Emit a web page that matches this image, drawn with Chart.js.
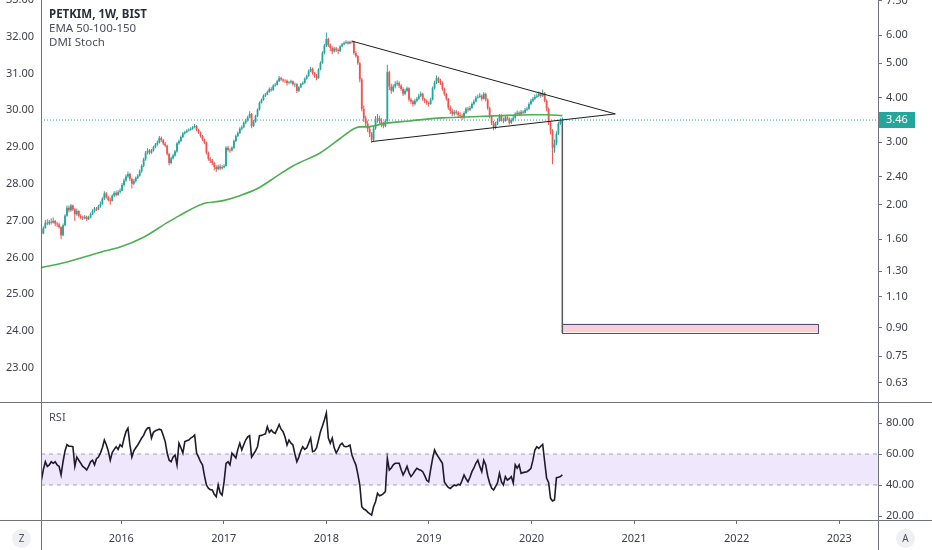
<!DOCTYPE html>
<html>
<head>
<meta charset="utf-8">
<script src="https://cdn.jsdelivr.net/npm/chart.js@4.4.0/dist/chart.umd.min.js"></script>
<style>
  html, body { margin: 0; padding: 0; background: #fff; }
  #wrap { position: relative; width: 932px; height: 550px; overflow: hidden; font-family: "Noto Sans", "DejaVu Sans", sans-serif; }
  #main { position: absolute; left: 0; top: 0; }
  #rsi { position: absolute; left: 0; top: 402px; }
  .lbl { position: absolute; left: 49px; font-size: 11.5px; line-height: 14px; color: #4c4f59; white-space: nowrap; }
  .btn { position: absolute; width: 19px; height: 19px; border-radius: 50%; background: #eef0f4; color: #50535e;
         font-size: 10px; line-height: 19px; text-align: center; }
</style>
</head>
<body>
<div id="wrap">
  <canvas id="main" width="932" height="402"></canvas>
  <canvas id="rsi" width="932" height="148"></canvas>
  <div class="lbl" style="top:7px;font-weight:bold;color:#2a2e39;">PETKIM, 1W, BIST</div>
  <div class="lbl" style="top:21px;">EMA 50-100-150</div>
  <div class="lbl" style="top:35px;">DMI Stoch</div>
  <div class="lbl" style="top:410px;font-size:11px;">RSI</div>
  <div class="btn" style="left:12px;top:529px;">Z</div>
  <div class="btn" style="left:896px;top:529px;">A</div>
</div>
<script>
// weekly candles, first week starts 2015-03-23
const startWeek = "2015-03-23";
const firstOpen = 1.70;
const closes = [
  1.66,1.72,1.78,1.77,1.79,1.78,1.80,1.77,1.76,1.73,
  1.64,1.75,1.86,1.96,1.93,1.99,1.94,1.88,1.92,1.86,
  1.84,1.83,1.85,1.82,1.84,1.88,1.92,1.95,1.94,1.98,
  2.01,2.08,2.15,2.10,2.06,2.05,2.12,2.16,2.13,2.17,
  2.19,2.27,2.34,2.40,2.44,2.36,2.29,2.33,2.38,2.41,
  2.48,2.57,2.68,2.80,2.84,2.80,2.84,2.90,2.95,2.99,
  3.08,3.04,2.97,2.93,2.78,2.62,2.70,2.75,2.82,2.97,
  3.02,3.10,3.17,3.20,3.23,3.25,3.27,3.30,3.33,3.25,
  3.19,3.12,3.05,2.99,2.80,2.69,2.66,2.62,2.55,2.52,
  2.56,2.53,2.55,2.57,2.89,2.85,2.84,2.89,3.02,3.12,
  3.18,3.27,3.30,3.40,3.45,3.52,3.60,3.33,3.42,3.55,
  3.70,3.87,3.94,4.05,4.08,4.15,4.23,4.20,4.32,4.35,
  4.45,4.54,4.50,4.47,4.46,4.40,4.41,4.45,4.36,4.37,
  4.18,4.28,4.37,4.40,4.52,4.60,4.75,4.82,4.69,4.60,
  4.54,4.80,5.01,5.34,5.60,5.85,5.62,5.52,5.40,5.50,
  5.45,5.41,5.58,5.65,5.70,5.73,5.68,5.74,5.73,5.34,
  5.24,5.00,4.50,3.72,3.50,3.38,3.27,3.17,3.05,3.28,
  3.44,3.50,3.44,3.38,3.33,3.44,4.72,4.30,4.18,4.30,
  4.37,4.40,4.32,4.23,4.10,4.18,4.25,3.95,3.90,3.84,
  3.92,3.97,4.05,4.10,3.97,3.92,3.87,3.84,3.95,4.25,
  4.40,4.54,4.46,4.40,4.23,4.10,3.97,3.75,3.67,3.60,
  3.65,3.63,3.58,3.56,3.51,3.62,3.72,3.70,3.74,3.84,
  3.90,4.00,4.02,4.05,3.97,4.10,3.95,3.74,3.55,3.40,
  3.29,3.38,3.44,3.56,3.48,3.44,3.52,3.49,3.40,3.46,
  3.51,3.60,3.63,3.60,3.65,3.63,3.70,3.72,3.84,3.92,
  3.97,4.02,4.05,4.10,4.05,4.12,3.92,3.72,3.40,3.23,
  2.89,2.97,3.17,3.38,3.44,3.46
];
const highs = [
  1.72,1.74,1.81,1.82,1.81,1.83,1.84,1.81,1.79,1.78,
  1.74,1.77,1.88,1.99,1.99,2.01,2.00,1.96,1.95,1.93,
  1.88,1.86,1.87,1.86,1.86,1.90,1.94,1.97,1.97,2.00,
  2.04,2.10,2.18,2.17,2.12,2.09,2.14,2.18,2.19,2.20,
  2.22,2.30,2.37,2.43,2.48,2.46,2.38,2.36,2.40,2.44,
  2.51,2.60,2.71,2.83,2.88,2.87,2.87,2.93,2.98,3.03,
  3.12,3.11,3.06,3.00,2.95,2.80,2.73,2.78,2.85,3.00,
  3.05,3.13,3.20,3.23,3.26,3.28,3.30,3.33,3.37,3.35,
  3.27,3.21,3.14,3.07,3.01,2.82,2.72,2.69,2.64,2.58,
  2.59,2.60,2.58,2.60,2.92,2.93,2.88,2.92,3.05,3.15,
  3.21,3.30,3.34,3.43,3.49,3.56,3.66,3.62,3.46,3.58,
  3.73,3.90,3.98,4.09,4.12,4.19,4.27,4.28,4.36,4.40,
  4.49,4.60,4.58,4.53,4.51,4.50,4.46,4.49,4.47,4.41,
  4.39,4.31,4.40,4.44,4.56,4.64,4.80,4.88,4.86,4.72,
  4.66,4.84,5.06,5.40,5.66,6.10,5.90,5.68,5.58,5.56,
  5.55,5.50,5.62,5.70,5.76,5.80,5.78,5.78,5.79,5.75,
  5.40,5.27,5.03,4.55,3.80,3.56,3.45,3.33,3.20,3.32,
  3.55,3.60,3.56,3.50,3.42,3.48,4.95,4.76,4.38,4.36,
  4.45,4.48,4.45,4.36,4.28,4.24,4.30,4.28,4.00,3.94,
  3.97,4.02,4.10,4.16,4.13,4.00,3.95,3.90,4.00,4.30,
  4.46,4.62,4.58,4.52,4.44,4.27,4.13,3.99,3.80,3.72,
  3.70,3.69,3.67,3.64,3.60,3.66,3.76,3.77,3.79,3.88,
  3.95,4.05,4.08,4.12,4.08,4.15,4.13,3.98,3.77,3.58,
  3.44,3.42,3.50,3.60,3.59,3.52,3.56,3.56,3.52,3.50,
  3.55,3.64,3.68,3.66,3.69,3.68,3.74,3.77,3.88,3.97,
  4.02,4.08,4.11,4.16,4.14,4.22,4.15,3.95,3.75,3.44,
  3.26,3.05,3.22,3.42,3.50,3.52
];
const lows = [
  1.62,1.65,1.71,1.75,1.75,1.76,1.77,1.74,1.73,1.71,
  1.60,1.63,1.74,1.85,1.90,1.91,1.92,1.80,1.86,1.84,
  1.82,1.81,1.82,1.80,1.81,1.83,1.87,1.90,1.92,1.93,
  1.96,2.00,2.06,2.08,2.04,2.00,2.04,2.10,2.11,2.12,
  2.15,2.18,2.25,2.32,2.38,2.33,2.22,2.27,2.31,2.36,
  2.40,2.46,2.55,2.66,2.77,2.77,2.78,2.82,2.88,2.93,
  2.97,3.00,2.94,2.90,2.75,2.58,2.60,2.68,2.73,2.80,
  2.95,3.00,3.08,3.15,3.18,3.21,3.23,3.25,3.28,3.22,
  3.16,3.09,3.02,2.96,2.77,2.66,2.62,2.58,2.50,2.47,
  2.50,2.50,2.51,2.53,2.56,2.82,2.80,2.82,2.87,3.00,
  3.10,3.16,3.24,3.28,3.37,3.43,3.50,3.28,3.31,3.40,
  3.53,3.68,3.85,3.92,4.02,4.06,4.13,4.16,4.18,4.29,
  4.33,4.43,4.46,4.42,4.40,4.33,4.36,4.38,4.32,4.28,
  4.12,4.15,4.26,4.34,4.38,4.49,4.58,4.72,4.64,4.55,
  4.48,4.52,4.78,4.98,5.30,5.55,5.55,5.40,5.30,5.36,
  5.38,5.30,5.38,5.55,5.62,5.66,5.64,5.65,5.68,5.28,
  5.18,4.95,4.42,3.66,3.42,3.30,3.20,3.10,2.98,3.02,
  3.25,3.40,3.38,3.30,3.28,3.30,3.42,4.20,4.10,4.14,
  4.25,4.32,4.26,4.18,4.04,4.06,4.14,3.90,3.84,3.78,
  3.80,3.88,3.94,4.02,3.92,3.86,3.82,3.78,3.82,3.93,
  4.22,4.36,4.40,4.34,4.18,4.05,3.92,3.70,3.60,3.55,
  3.56,3.58,3.53,3.50,3.46,3.49,3.60,3.65,3.67,3.72,
  3.81,3.88,3.97,3.99,3.92,3.95,3.90,3.70,3.50,3.35,
  3.24,3.26,3.35,3.42,3.43,3.39,3.42,3.45,3.36,3.37,
  3.43,3.49,3.57,3.55,3.57,3.59,3.61,3.67,3.70,3.81,
  3.89,3.94,3.99,4.02,4.00,4.02,3.88,3.66,3.35,3.15,
  2.60,2.80,2.94,3.14,3.35,3.40
];
const rsi = [
  43,50,55,52,53,55,54,55,53,52,
  46.5,55,62,66,65,65,64.7,52,58,56,
  54,52,51,49.7,52,55,56,53,57,58,
  60.6,64,69,66,62,56,61,63,64.7,63,
  66,64.7,70,74.4,76.6,66,58,62,64,65.8,
  68,70.3,72,75,76.8,77,70.3,74,75,75.5,
  76,75.5,72,68,60.6,56,55,58,59.4,53,
  67,64,60.6,68,68.5,69,70.3,71,72.3,60.6,
  58,55,53,46,40,38,37,36.8,34,32.5,
  40,35,33.5,42,54,55,53,60.6,59,57.4,
  63,67,62.6,66,69,71,71.8,58,60,62,
  64.7,71.8,72,72.5,73,77.6,74,75.5,74,73.3,
  76,79,76,74.4,71,65.8,69,67,65.8,60,
  55,58,62,64.7,63,63.9,67,70.3,61.5,62,
  63.9,69,74.4,78,82,86.5,70.3,67,70.3,64,
  60.6,63,65.8,67,65,64.7,65,65.8,59.4,56,
  53,47,40,26,24.5,23.9,22.5,21.5,20.6,26,
  29.2,34.6,33,33.5,34.5,35.7,57.2,49.7,51,53,
  54,54,54,50,46.5,49,52,48,45.4,47,
  49,50.8,50,49.5,48.6,46,43,42,50,57,
  62.6,60,58,56,54,42,40,38.5,37.8,39,
  40,39.5,40.5,40,43,46.5,44,42,45,48.6,
  51,54,56,52,48.6,56,53,46,41.3,38,
  36.8,39,41.3,47.5,42,40,45.4,43.2,44,45.4,
  41.3,53,50.8,53,47.5,48,48.3,48.6,49.5,50.8,
  56,62.6,64.7,63.6,65,66.2,55,44.3,41.7,31.4,
  29.7,30.3,44.7,45,45.4,46.5
];
// EMA read at a few weeks (week index -> value)
const emaWeeks  = [0, 13, 30, 40, 52, 64, 70, 82, 92, 101, 110, 120, 128, 131, 142, 152, 159, 162, 166, 174, 187, 204, 216, 233, 250, 257, 265];
const emaValues = [1.33,1.38,1.47,1.52,1.62,1.78,1.86,2.01,2.05,2.12,2.22,2.41,2.57,2.62,2.80,3.07,3.27,3.31,3.31,3.38,3.44,3.51,3.53,3.56,3.58,3.58,3.56];
const lastPrice = 3.46;

const yearTicks = [2016, 2017, 2018, 2019, 2020, 2021, 2022, 2023];
const priceTicks = [0.63, 0.75, 0.90, 1.10, 1.30, 1.60, 2.00, 2.40, 3.00, 4.00, 5.00, 6.00, 7.50];
const compareTicks = [23, 24, 25, 26, 27, 28, 29, 30, 31, 32, 33];
const rsiTicks = [20, 40, 60, 80];
const rsiBand = [60, 40];

// drawings: [week index, price]
const triangleUpper = [[158, 5.77], [292, 3.60]];
const triangleLower = [[168, 3.01], [292, 3.60]];
const targetLine = [[265, 3.44], [265, 0.871]];
const targetBoxWeeks = [265, 395];
const targetBoxPrices = [0.875, 0.926];

const X_MIN = 2015.218, X_MAX = 2023.378;
const UP = "#26a69a", DOWN = "#ef5350";
const AXIS = "#70737d", TXT = "#3c3f4a";
const FONT = { family: '"Noto Sans", "DejaVu Sans", sans-serif', size: 11 };

function weekX(i) {
  const d = new Date(Date.parse(startWeek + "T00:00:00Z") + i * 7 * 864e5);
  const y = d.getUTCFullYear();
  const a = Date.UTC(y, 0, 1), b = Date.UTC(y + 1, 0, 1);
  return y + (d.getTime() - a) / (b - a);
}
const pts = arr => arr.map(p => ({ x: weekX(p[0]), y: p[1] }));

const n = Math.min(closes.length, highs.length, lows.length);
const opens = closes.map((c, i) => i === 0 ? firstOpen : closes[i - 1]);
const candleColor = ctx => closes[ctx.dataIndex] >= opens[ctx.dataIndex] ? UP : DOWN;
const wickData = [], bodyData = [];
for (let i = 0; i < n; i++) {
  wickData.push({ x: weekX(i), y: [lows[i], highs[i]] });
  bodyData.push({ x: weekX(i), y: [opens[i], closes[i]] });
}

function fixWidth(w) {
  return s => { s.width = w; s.paddingTop = 0; s.paddingBottom = 0; };
}
function setTicks(list) {
  return s => { s.ticks = list.map(v => ({ value: v })); };
}

const mainFrame = {
  id: "mainFrame",
  beforeDatasetsDraw(chart) {
    const { ctx, scales } = chart;
    const x1 = scales.x.getPixelForValue(weekX(targetBoxWeeks[0]));
    const x2 = scales.x.getPixelForValue(weekX(targetBoxWeeks[1]));
    const y1 = scales.y.getPixelForValue(targetBoxPrices[1]);
    const y2 = scales.y.getPixelForValue(targetBoxPrices[0]);
    ctx.save();
    ctx.fillStyle = "#f9cfd3";
    ctx.fillRect(x1, y1, x2 - x1, y2 - y1);
    ctx.strokeStyle = "#4e4f7c";
    ctx.lineWidth = 1;
    ctx.strokeRect(Math.round(x1) + 0.5, Math.round(y1) + 0.5, Math.round(x2 - x1), Math.round(y2 - y1));
    ctx.restore();
  },
  afterDraw(chart) {
    const { ctx, chartArea: a, scales, height } = chart;
    ctx.save();
    ctx.strokeStyle = AXIS;
    ctx.lineWidth = 1;
    ctx.beginPath();
    ctx.moveTo(Math.round(a.left) + 0.5, 0); ctx.lineTo(Math.round(a.left) + 0.5, height);
    ctx.moveTo(Math.round(a.right) + 0.5, 0); ctx.lineTo(Math.round(a.right) + 0.5, height);
    ctx.stroke();
    const y = scales.y.getPixelForValue(lastPrice);
    ctx.fillStyle = UP;
    ctx.fillRect(Math.round(a.right) + 1, Math.round(y) - 8, 36, 16);
    ctx.fillStyle = "#ffffff";
    ctx.font = FONT.size + "px " + FONT.family;
    ctx.textBaseline = "middle";
    ctx.fillText(lastPrice.toFixed(2), a.right + 8, y);
    ctx.restore();
  }
};

const rsiFrame = {
  id: "rsiFrame",
  afterDraw(chart) {
    const { ctx, chartArea: a, width, height } = chart;
    ctx.save();
    ctx.strokeStyle = AXIS;
    ctx.lineWidth = 1;
    ctx.beginPath();
    ctx.moveTo(0, 0.5); ctx.lineTo(width, 0.5);
    ctx.moveTo(0, Math.round(a.bottom) + 0.5); ctx.lineTo(width, Math.round(a.bottom) + 0.5);
    ctx.moveTo(Math.round(a.left) + 0.5, 0); ctx.lineTo(Math.round(a.left) + 0.5, height);
    ctx.moveTo(Math.round(a.right) + 0.5, 0); ctx.lineTo(Math.round(a.right) + 0.5, height);
    ctx.stroke();
    ctx.restore();
  }
};

Chart.defaults.font.family = FONT.family;
Chart.defaults.font.size = FONT.size;

new Chart(document.getElementById("main"), {
  type: "bar",
  data: {
    datasets: [
      { type: "line", order: 0, yAxisID: "y", data: pts(triangleUpper), borderColor: "#1c1c1c", borderWidth: 1, pointRadius: 0 },
      { type: "line", order: 0, yAxisID: "y", data: pts(triangleLower), borderColor: "#1c1c1c", borderWidth: 1, pointRadius: 0 },
      { type: "line", order: 0, yAxisID: "y", data: pts(targetLine), borderColor: "#55565e", borderWidth: 1.5, pointRadius: 0 },
      { type: "line", order: 1, yAxisID: "y", data: emaWeeks.map((w, k) => ({ x: weekX(w), y: emaValues[k] })),
        borderColor: "#4caf50", borderWidth: 1.6, pointRadius: 0, cubicInterpolationMode: "monotone" },
      { type: "bar", order: 2, yAxisID: "y", data: bodyData, backgroundColor: candleColor, barThickness: 1.8, inflateAmount: 0, grouped: false },
      { type: "bar", order: 3, yAxisID: "y", data: wickData, backgroundColor: candleColor, barThickness: 1, inflateAmount: 0, grouped: false },
      { type: "line", order: 4, yAxisID: "y", data: [{ x: X_MIN, y: lastPrice }, { x: X_MAX, y: lastPrice }],
        borderColor: UP, borderWidth: 1, borderDash: [1, 2], pointRadius: 0 }
    ]
  },
  options: {
    responsive: false,
    animation: false,
    layout: { padding: 0 },
    plugins: { legend: { display: false }, tooltip: { enabled: false } },
    scales: {
      x: { type: "linear", min: X_MIN, max: X_MAX, offset: false, display: false },
      yl: {
        type: "linear", axis: "y", position: "left", min: 22.07, max: 33,
        afterBuildTicks: setTicks(compareTicks), afterFit: fixWidth(41),
        ticks: { callback: v => v.toFixed(2), color: TXT, padding: 7, autoSkip: false },
        grid: { display: false, drawTicks: false }, border: { display: false }
      },
      y: {
        type: "logarithmic", axis: "y", position: "right", min: 0.557, max: 7.53,
        afterBuildTicks: setTicks(priceTicks), afterFit: fixWidth(54),
        ticks: { callback: v => Number(v).toFixed(2), color: TXT, padding: 4, autoSkip: false },
        grid: { display: true, drawOnChartArea: false, tickLength: 4, color: AXIS }, border: { display: false }
      }
    }
  },
  plugins: [mainFrame]
});

new Chart(document.getElementById("rsi"), {
  type: "line",
  data: {
    datasets: [
      { data: rsi.map((v, i) => ({ x: weekX(i), y: v })), borderColor: "#1f1b2a", borderWidth: 1.6, pointRadius: 0, yAxisID: "y" },
      { data: [{ x: X_MIN, y: rsiBand[0] }, { x: X_MAX, y: rsiBand[0] }], borderColor: "#a3a6af", borderWidth: 1,
        borderDash: [4, 4], pointRadius: 0, fill: "+1", backgroundColor: "rgba(150, 95, 225, 0.15)", yAxisID: "y" },
      { data: [{ x: X_MIN, y: rsiBand[1] }, { x: X_MAX, y: rsiBand[1] }], borderColor: "#a3a6af", borderWidth: 1,
        borderDash: [4, 4], pointRadius: 0, yAxisID: "y" }
    ]
  },
  options: {
    responsive: false,
    animation: false,
    layout: { padding: 0 },
    plugins: { legend: { display: false }, tooltip: { enabled: false } },
    scales: {
      x: {
        type: "linear", position: "bottom", min: X_MIN, max: X_MAX, offset: false,
        afterBuildTicks: setTicks(yearTicks),
        afterFit: s => { s.height = 30; s.paddingLeft = 0; s.paddingRight = 0; },
        ticks: { callback: v => String(v), color: TXT, padding: 8, maxRotation: 0, autoSkip: false },
        grid: { display: true, drawOnChartArea: false, tickLength: 4, color: AXIS }, border: { display: false }
      },
      yl: {
        type: "linear", axis: "y", position: "left", min: 0, max: 1, afterFit: fixWidth(41),
        ticks: { display: false }, grid: { display: false, drawTicks: false }, border: { display: false }
      },
      y: {
        type: "linear", position: "right", min: 17.42, max: 93.55,
        afterBuildTicks: setTicks(rsiTicks), afterFit: fixWidth(54),
        ticks: { callback: v => v.toFixed(2), color: TXT, padding: 4, autoSkip: false },
        grid: { display: true, drawOnChartArea: false, tickLength: 4, color: AXIS }, border: { display: false }
      }
    }
  },
  plugins: [rsiFrame]
});
</script>
</body>
</html>
